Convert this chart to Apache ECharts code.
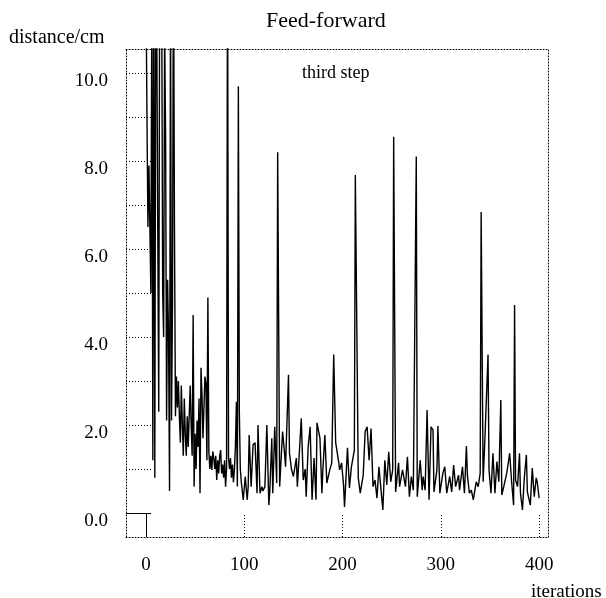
<!DOCTYPE html>
<html>
<head>
<meta charset="utf-8">
<script src="https://cdn.jsdelivr.net/npm/echarts@6/dist/echarts.min.js"></script>
<style>
html,body{margin:0;padding:0;background:#fff;}
#c{width:606px;height:598px;}
</style>
</head>
<body>
<div id="c"></div>
<script>
// ---- data ----
const iterations = [0,1,2,3,4,5,6,7,8,9,10,11,12,13,14,15,16,17,18,19,20,21,22,23,24,25,26,27,28,29,30,31,32,33,34,35,36,37,38,39,40,41,42,43,44,45,46,47,48,49,50,51,52,53,54,55,56,57,58,59,60,61,62,63,64,65,66,67,68,69,70,71,72,73,74,75,76,77,78,79,80,81,82,83,84,85,86,87,88,89,90,91,92,93,94,95,96,97,99,101,103,104,105,107,109,111,113,114,116,118,119,121,123,125,126,128,129,131,133,134,136,139,141,142,145,146,148,150,153,154,156,158,160,162,163,165,167,169,171,173,174,177,179,180,182,184,187,189,191,193,196,197,199,201,202,205,207,209,212,213,216,218,221,223,225,227,229,231,233,235,237,241,243,245,247,249,251,252,254,257,258,261,264,266,268,270,272,275,276,279,281,282,284,286,288,290,292,293,296,297,299,302,304,306,309,311,313,315,318,319,322,324,326,327,329,331,333,336,338,340,341,343,345,348,349,351,353,355,357,359,361,362,364,367,369,370,372,374,375,376,378,380,381,383,385,387,388,391,393,395,397,398,400];
const distance = [12,9.1,6.5,7.9,6.5,5.0,12,1.2,13,0.8,12,11,6.5,2.3,13,11,12,5.0,4.0,11,8.5,2.1,5.3,4.0,0.5,12,2.1,4.8,13,6.5,2.2,3.1,2.4,3.0,2.2,1.6,2.9,2.0,1.3,2.6,1.8,1.3,2.2,1.5,1.5,2.9,2.0,1.3,4.5,0.6,1.8,1.0,2.1,1.5,2.6,0.45,3.3,2.7,1.7,2.4,3.1,2.95,1.2,4.9,1.4,1.0,1.3,0.98,1.4,1.25,1.0,1.3,0.75,1.2,0.9,1.3,1.43,0.9,1.1,0.8,1.2,0.6,1.0,13,1.25,1.0,1.25,0.8,1.1,0.7,1.0,1.5,2.53,0.6,9.7,2.27,1.0,0.7,0.3,0.83,0.3,0.6,1.77,0.6,1.55,1.6,0.45,2.0,0.45,0.6,0.5,0.6,2.0,0.18,0.5,1.7,0.45,1.96,0.68,8.2,0.6,1.85,1.36,1.05,3.14,1.36,1.0,0.83,1.25,0.6,1.36,2.15,0.75,1.0,0.37,1.5,1.96,0.3,1.25,0.3,2.05,1.7,0.45,1.0,1.77,0.68,0.98,1.14,3.6,1.6,1.17,0.98,1.14,0.64,0.14,1.48,0.57,1.05,1.43,7.68,0.8,0.45,0.86,1.85,1.96,1.2,1.92,0.6,0.75,0.34,1.05,0.07,1.2,0.64,1.39,0.71,0.98,8.55,0.48,1.14,0.6,0.98,0.6,1.28,0.37,0.83,0.52,8.1,0.37,1.2,0.52,0.83,0.52,2.34,0.3,1.96,1.89,0.48,0.98,1.98,0.45,0.9,1.05,0.45,0.83,0.48,1.09,0.6,0.86,0.52,1.05,0.45,1.52,0.86,0.45,0.52,0.3,0.71,0.6,0.9,6.84,0.71,1.8,3.6,0.98,0.45,1.36,0.45,1.17,0.71,2.57,0.41,0.6,0.9,1.2,1.36,0.71,0.18,4.73,0.75,0.6,1.36,0.45,0.07,0.83,1.32,0.48,0.18,1.02,0.37,0.8,0.71,0.34];
const xTicks = [0,100,200,300,400];
const yTicks = [0,1,2,3,4,5,6,7,8,9,10];
const yLabels = [0,2,4,6,8,10];

const FONT = 'Liberation Serif';
const chart = echarts.init(document.getElementById('c'), null, {renderer:'canvas'});
const dotted = {color:'#000', width:1, type:[1,2]};
const solid = {color:'#000', width:1, type:'solid'};
const X_MIN = -20.3, X_MAX = 409, Y_MIN = -0.545, Y_MAX = 10.545;

function txt(size){ return {fontFamily:FONT, fontSize:size, fontWeight:'normal', color:'#000'}; }

const option = {
  animation:false,
  backgroundColor:'#fff',
  title:[
    {text:'Feed-forward', left:266, top:10, padding:0, textStyle:txt(22)},
    {text:'distance/cm', left:9, top:28, padding:0, textStyle:txt(20)},
    {text:'third step', left:302, top:64, padding:0, textStyle:txt(18)},
    {text:'iterations', left:531, top:583, padding:0, textStyle:txt(19)}
  ],
  grid:{left:126, top:49, right:58, bottom:61, show:false},
  xAxis:[
    {type:'value', position:'bottom', min:X_MIN, max:X_MAX,
     axisLine:{show:true, onZero:false, lineStyle:dotted},
     axisTick:{show:true, inside:true, length:24, customValues:xTicks.slice(1), lineStyle:dotted},
     axisLabel:{show:true, customValues:xTicks, margin:19, fontFamily:FONT, fontSize:19, color:'#000'},
     splitLine:{show:false}},
    {type:'value', position:'top', min:X_MIN, max:X_MAX,
     axisLine:{show:true, onZero:false, lineStyle:dotted},
     axisTick:{show:false}, axisLabel:{show:false}, splitLine:{show:false}},
    {type:'value', position:'bottom', min:X_MIN, max:X_MAX,
     axisLine:{show:false, onZero:false},
     axisTick:{show:true, inside:true, length:24, customValues:[xTicks[0]], lineStyle:solid},
     axisLabel:{show:false}, splitLine:{show:false}}
  ],
  yAxis:[
    {type:'value', position:'left', min:Y_MIN, max:Y_MAX,
     axisLine:{show:true, onZero:false, lineStyle:dotted},
     axisTick:{show:true, inside:true, length:25, customValues:yTicks.slice(1), lineStyle:dotted},
     axisLabel:{show:true, customValues:yLabels, margin:18, verticalAlign:'top', lineHeight:16,
       fontFamily:FONT, fontSize:19, color:'#000',
       formatter:v=>Number(v).toFixed(1)},
     splitLine:{show:false}},
    {type:'value', position:'right', min:Y_MIN, max:Y_MAX,
     axisLine:{show:true, onZero:false, lineStyle:dotted},
     axisTick:{show:false}, axisLabel:{show:false}, splitLine:{show:false}},
    {type:'value', position:'left', min:Y_MIN, max:Y_MAX,
     axisLine:{show:false, onZero:false},
     axisTick:{show:true, inside:true, length:25, customValues:[yTicks[0]], lineStyle:solid},
     axisLabel:{show:false}, splitLine:{show:false}}
  ],
  series:[
    {type:'line', xAxisIndex:0, yAxisIndex:0, data:iterations.map((x,i)=>[x, distance[i]]),
     showSymbol:false, symbol:'none', clip:true, sampling:null,
     lineStyle:{color:'#000', width:1.4}, silent:true}
  ]
};
chart.setOption(option);
</script>
</body>
</html>
